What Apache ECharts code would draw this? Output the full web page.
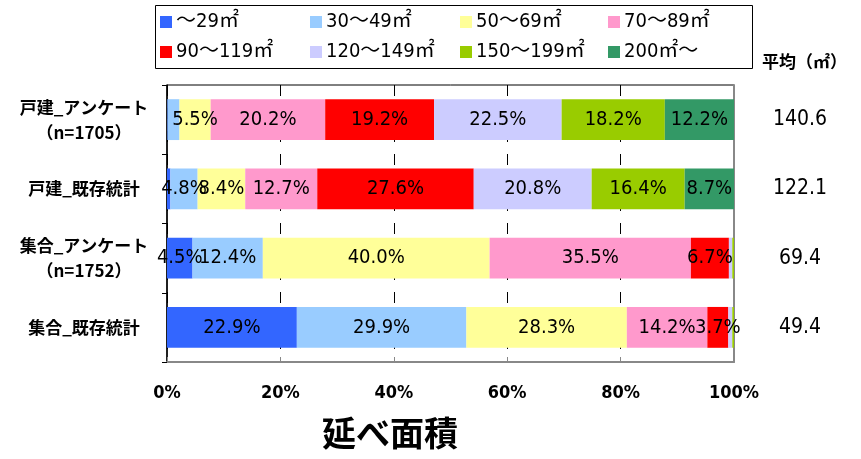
<!DOCTYPE html>
<html>
<head>
<meta charset="utf-8">
<script src="https://cdn.jsdelivr.net/npm/echarts@6/dist/echarts.min.js"></script>
<style>
  html, body { margin: 0; padding: 0; background: #fff; }
  #chart { width: 861px; height: 459px; }
</style>
</head>
<body>
<div id="chart"></div>
<script>
// Floor-area distribution by dwelling type (share of each size band, %)
const categories = ['戸建_アンケート\n（n=1705）', '戸建_既存統計', '集合_アンケート\n（n=1752）', '集合_既存統計'];
const sizeBands = ['～29㎡', '30～49㎡', '50～69㎡', '70～89㎡', '90～119㎡', '120～149㎡', '150～199㎡', '200㎡～'];
const band29 = [0.1, 0.6, 4.5, 22.9];
const band30to49 = [2.1, 4.8, 12.4, 29.9];
const band50to69 = [5.5, 8.4, 40.0, 28.3];
const band70to89 = [20.2, 12.7, 35.5, 14.2];
const band90to119 = [19.2, 27.6, 6.7, 3.7];
const band120to149 = [22.5, 20.8, 0.6, 0.7];
const band150to199 = [18.2, 16.4, 0.3, 0.3];
const band200 = [12.2, 8.7, 0.0, 0.0];
const averages = [140.6, 122.1, 69.4, 49.4];
const xTicks = [0, 20, 40, 60, 80, 100];

const bandValues = [band29, band30to49, band50to69, band70to89, band90to119, band120to149, band150to199, band200];
const bandColors = ['#3366ff', '#99ccff', '#ffff99', '#ff99cc', '#ff0000', '#ccccff', '#99cc00', '#339966'];

const narrowFont = "'Liberation Sans Narrow', 'Arial Narrow', 'DejaVu Sans Condensed', 'Noto Sans CJK JP', sans-serif";
const cjkFont = "'Noto Sans CJK JP', sans-serif";

// legend laid out as a fixed 4-column, 2-row table inside a framed box
const legendCols = [160, 310, 460, 608];
const legendRows = [12, 42];

const chart = echarts.init(document.getElementById('chart'), null, { renderer: 'canvas' });

const series = sizeBands.map((name, i) => ({
  name: name,
  type: 'bar',
  stack: 'share',
  barWidth: '59%',
  data: bandValues[i],
  itemStyle: { color: bandColors[i] },
  label: {
    show: true,
    position: 'inside',
    color: '#000',
    fontSize: 20,
    fontFamily: narrowFont,
    formatter: p => (p.value >= 3 ? p.value.toFixed(1) + '%' : '')
  }
}));

const legends = sizeBands.map((name, i) => ({
  data: [name],
  left: legendCols[i % 4],
  top: legendRows[Math.floor(i / 4)],
  padding: 0,
  itemWidth: 12, itemHeight: 12,
  itemGap: 0,
  icon: 'rect',
  selectedMode: false,
  textStyle: { color: '#000', fontSize: 20, fontFamily: narrowFont, padding: [0, 0, 0, -1] }
}));

chart.setOption({
  animation: false,
  backgroundColor: '#fff',
  title: [
    {
      text: '延べ面積',
      left: 322, top: 416, padding: 0,
      textStyle: { fontSize: 34, fontWeight: 'bold', fontFamily: cjkFont, color: '#000' }
    },
    {
      text: '平均（㎡）',
      left: 762, top: 53, padding: 0,
      textStyle: { fontSize: 17, fontWeight: 'bold', fontFamily: cjkFont, color: '#000' }
    }
  ],
  graphic: [{
    type: 'rect',
    shape: { x: 155.5, y: 5.5, width: 597, height: 63 },
    style: { fill: 'none', stroke: '#000', lineWidth: 1 },
    silent: true
  }],
  legend: legends,
  grid: {
    left: 167, right: 127, top: 85, bottom: 97,
    show: true, borderColor: '#000', borderWidth: 1
  },
  xAxis: {
    type: 'value',
    min: 0, max: 100, interval: 20,
    axisLine: { show: true, lineStyle: { color: '#888', width: 2 } },
    axisTick: { show: true, inside: true, length: 5, lineStyle: { color: '#888' } },
    axisLabel: {
      margin: 22, color: '#000', fontSize: 18, fontWeight: 'bold',
      fontFamily: narrowFont,
      formatter: v => (xTicks.includes(v) ? v + '%' : '')
    },
    splitLine: { show: true, lineStyle: { color: '#000', type: [11, 12], width: 1 } }
  },
  yAxis: [
    {
      type: 'category',
      data: categories,
      inverse: true,
      axisLine: { show: true, lineStyle: { color: '#000', width: 1.5 } },
      axisTick: { show: true, length: 5, lineStyle: { color: '#000' } },
      axisLabel: {
        align: 'center', margin: 83, lineHeight: 25,
        color: '#000', fontSize: 17, fontWeight: 'bold', fontFamily: cjkFont
      }
    },
    {
      type: 'category',
      data: categories,
      inverse: true,
      position: 'right',
      axisLine: { show: true, lineStyle: { color: '#888', width: 2 } },
      axisTick: { show: false },
      axisLabel: {
        align: 'center', margin: 66,
        color: '#000', fontSize: 21, fontFamily: narrowFont,
        formatter: (v, i) => averages[i].toFixed(1)
      }
    }
  ],
  series: series
});
</script>
</body>
</html>
